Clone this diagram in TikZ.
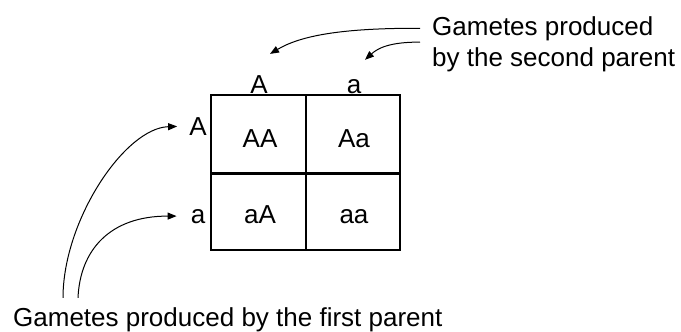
\documentclass[tikz,border=0pt]{standalone}
\usepackage{fontspec}
\setmainfont{Liberation Sans}
\usetikzlibrary{arrows.meta, positioning, calc}

\begin{document}
\begin{tikzpicture}[
    x=1pt, y=-1pt,
    allele/.style={inner sep=0pt, anchor=base, font=\fontsize{26}{31}\selectfont},
    note/.style={inner sep=0pt, anchor=base west, font=\fontsize{26}{31}\selectfont},
    square/.style={line width=1.3pt},
    divider/.style={line width=3pt},
    arrow/.style={line width=1pt, -{Triangle[length=9pt, width=7pt]}},
]
    \useasboundingbox (0,0) rectangle (681,332);

    % Punnett square
    \draw [square] (211,95) rectangle (400,250);
    \draw [square] (306,95) -- (306,250);
    \draw [divider] (211,173) -- (400,173);

    % gametes of the second parent (columns)
    \node (colA) [allele] at (259,93) {A};
    \node (cola) [allele] at (354,93) {a};

    % gametes of the first parent (rows)
    \node (rowA) [allele] at (198,135) {A};
    \node (rowa) [allele] at (198,223) {a};

    % offspring
    \node (AA) [allele] at (260,147) {AA};
    \node (Aa) [allele] at (354,147) {Aa};
    \node (aA) [allele] at (260,223) {aA};
    \node (aa) [allele] at (354,223) {aa};

    % notes
    \node (second1) [note] at (432,35) {Gametes produced};
    \node (second2) [note] at (432,66) {by the second parent};
    \node (first) [note] at (13,326) {Gametes produced by the first parent};

    \draw [arrow] ([xshift=-12pt]second1.west)
        .. controls (340,28) and (300,36) .. ($(colA.north)+(11,-21)$);
    \draw [arrow] ([xshift=-12pt, yshift=-1.5pt]second1.south west)
        .. controls (390,42) and (378,48) .. ($(cola.north)+(11,-19)$);
    \draw [arrow, shorten >=12pt] ($(first.north west)+(50,-9)$)
        .. controls (63,220) and (125,128) .. (rowA.west);
    \draw [arrow, shorten >=14pt] ($(first.north west)+(65,-9)$)
        .. controls (80,250) and (110,216) .. (rowa.west);

\end{tikzpicture}
\end{document}
